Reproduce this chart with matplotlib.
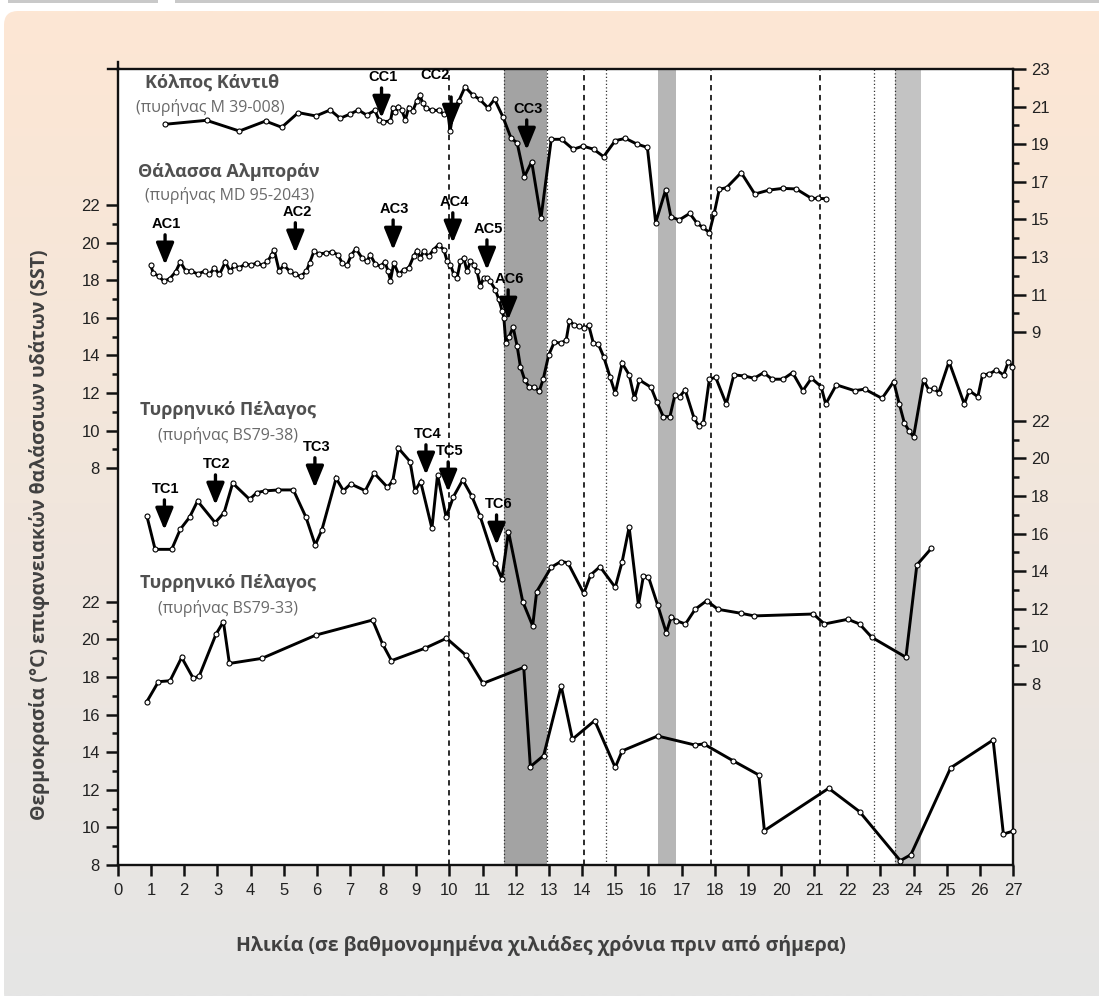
import matplotlib
matplotlib.use("Agg")
import matplotlib.pyplot as plt
import numpy as np
from matplotlib.patches import FancyBboxPatch, Rectangle

# ---- data ----
cadiz_age = [
    1.42, 2.67, 3.66, 4.45, 4.94, 5.44, 5.97, 6.40, 6.70, 7.00,
    7.25, 7.50, 7.75, 7.87, 8.00, 8.22, 8.29, 8.37, 8.46, 8.56,
    8.67, 8.77, 8.89, 9.01, 9.11, 9.19, 9.29, 9.47, 9.68, 9.82,
    9.95, 10.02, 10.12, 10.28, 10.47, 10.70, 10.91, 11.16, 11.36, 11.61,
    11.86, 12.04, 12.26, 12.48, 12.76, 13.07, 13.38, 13.73, 14.03, 14.35,
    14.65, 15.00, 15.31, 15.65, 15.97, 16.22, 16.52, 16.68, 16.93, 17.25,
    17.47, 17.64, 17.84, 17.99, 18.14, 18.36, 18.80, 19.21, 19.64, 20.05,
    20.46, 20.92, 21.13, 21.36]
cadiz_sst = [
    20.06, 20.27, 19.70, 20.23, 19.90, 20.68, 20.50, 20.82, 20.38, 20.60,
    20.82, 20.55, 20.80, 20.30, 20.20, 20.23, 20.90, 20.70, 21.00, 20.80,
    20.30, 20.95, 20.75, 21.30, 21.60, 21.20, 20.90, 20.80, 20.80, 20.60,
    20.70, 19.70, 20.80, 21.30, 22.05, 21.62, 21.39, 20.94, 21.39, 20.46,
    19.31, 19.08, 17.27, 18.07, 15.06, 19.26, 19.26, 18.73, 18.90, 18.73,
    18.34, 19.19, 19.31, 19.01, 18.83, 14.83, 16.56, 15.14, 14.97, 15.32,
    14.79, 14.58, 14.30, 15.36, 16.60, 16.69, 17.49, 16.35, 16.56, 16.65,
    16.62, 16.12, 16.12, 16.10]

alboran_age = [
    0.99, 1.06, 1.24, 1.38, 1.56, 1.74, 1.88, 2.04, 2.21, 2.41,
    2.61, 2.76, 2.91, 3.06, 3.24, 3.38, 3.51, 3.66, 3.84, 4.01,
    4.18, 4.36, 4.51, 4.64, 4.71, 4.86, 5.01, 5.18, 5.34, 5.51,
    5.68, 5.78, 5.91, 6.06, 6.26, 6.46, 6.64, 6.76, 6.91, 7.04,
    7.18, 7.36, 7.51, 7.61, 7.76, 7.92, 8.05, 8.15, 8.22, 8.32,
    8.47, 8.62, 8.77, 8.92, 9.02, 9.12, 9.22, 9.37, 9.52, 9.67,
    9.83, 9.93, 10.03, 10.13, 10.23, 10.33, 10.43, 10.53, 10.63, 10.73,
    10.83, 10.93, 11.03, 11.13, 11.23, 11.38, 11.49, 11.59, 11.64, 11.70,
    11.80, 11.92, 12.04, 12.14, 12.27, 12.41, 12.56, 12.71, 12.83, 12.99,
    13.16, 13.35, 13.52, 13.62, 13.76, 13.92, 14.07, 14.20, 14.34, 14.49,
    14.65, 14.84, 15.00, 15.21, 15.42, 15.58, 15.73, 16.08, 16.25, 16.45,
    16.65, 16.80, 16.94, 17.11, 17.38, 17.52, 17.66, 17.84, 18.03, 18.35,
    18.58, 18.90, 19.19, 19.48, 19.73, 20.06, 20.35, 20.66, 20.92, 21.21,
    21.35, 21.67, 22.22, 22.53, 23.05, 23.40, 23.57, 23.72, 23.86, 24.00,
    24.30, 24.46, 24.61, 24.76, 25.07, 25.53, 25.68, 25.94, 26.08, 26.29,
    26.49, 26.72, 26.86, 26.98]
alboran_sst = [
    18.79, 18.38, 18.20, 17.94, 18.08, 18.44, 18.97, 18.50, 18.47, 18.33,
    18.47, 18.30, 18.65, 18.30, 18.97, 18.47, 18.79, 18.65, 18.86, 18.79,
    18.91, 18.79, 19.00, 19.35, 19.62, 18.50, 18.79, 18.47, 18.30, 18.20,
    18.47, 18.91, 19.53, 19.39, 19.44, 19.50, 19.35, 18.91, 18.79, 19.35,
    19.67, 19.18, 19.00, 19.35, 18.86, 18.74, 18.97, 18.47, 17.98, 18.91,
    18.30, 18.56, 18.65, 19.27, 19.57, 19.18, 19.53, 19.27, 19.62, 19.88,
    19.62, 19.00, 18.83, 18.30, 18.12, 19.00, 19.18, 18.47, 19.00, 18.83,
    18.47, 17.68, 18.12, 18.12, 17.94, 17.50, 16.97, 16.36, 16.00, 14.64,
    15.00, 15.50, 14.50, 13.40, 12.69, 12.30, 12.30, 12.10, 12.75, 14.00,
    14.70, 14.65, 14.80, 15.85, 15.60, 15.55, 15.45, 15.60, 14.65, 14.60,
    13.93, 12.87, 11.98, 13.58, 12.96, 11.71, 12.69, 12.30, 11.54, 10.74,
    10.74, 11.89, 11.80, 12.16, 10.65, 10.24, 10.42, 12.73, 12.83, 11.41,
    12.96, 12.90, 12.78, 13.08, 12.73, 12.73, 13.08, 12.12, 12.78, 12.34,
    11.41, 12.43, 12.12, 12.20, 11.71, 12.60, 11.41, 10.42, 9.99, 9.67,
    12.69, 12.16, 12.24, 12.02, 13.66, 11.41, 12.12, 11.80, 12.96, 13.01,
    13.22, 12.96, 13.66, 13.40]

bs38_age = [
    0.87, 1.12, 1.62, 1.88, 2.16, 2.40, 2.93, 3.20, 3.46, 3.97,
    4.19, 4.44, 4.84, 5.29, 5.67, 5.95, 6.15, 6.58, 6.80, 7.02,
    7.46, 7.73, 8.13, 8.29, 8.46, 8.81, 8.96, 9.13, 9.47, 9.64,
    9.90, 10.12, 10.40, 10.67, 10.92, 11.38, 11.58, 11.78, 12.21, 12.51,
    12.63, 13.07, 13.36, 13.57, 14.05, 14.26, 14.54, 15.00, 15.21, 15.42,
    15.70, 15.85, 16.00, 16.28, 16.54, 16.69, 16.83, 17.12, 17.41, 17.76,
    18.10, 18.79, 19.19, 20.98, 21.31, 22.02, 22.37, 22.74, 23.77, 24.10,
    24.54]
bs38_sst = [
    16.94, 15.16, 15.16, 16.23, 16.87, 17.73, 16.58, 17.11, 18.68, 17.82,
    18.18, 18.27, 18.32, 18.32, 16.87, 15.39, 16.19, 18.94, 18.28, 18.64,
    18.28, 19.21, 18.46, 18.81, 20.54, 19.83, 18.28, 18.76, 16.28, 19.12,
    16.87, 17.96, 18.85, 18.00, 16.94, 14.45, 13.60, 16.10, 12.38, 11.09,
    12.91, 14.21, 14.51, 14.45, 12.82, 13.80, 14.24, 13.14, 14.51, 16.34,
    12.20, 13.74, 13.71, 12.20, 10.73, 11.58, 11.37, 11.19, 11.97, 12.43,
    11.97, 11.76, 11.62, 11.72, 11.19, 11.44, 11.19, 10.48, 9.42, 14.33,
    15.22]

bs33_age = [
    0.87, 1.22, 1.57, 1.92, 2.27, 2.45, 2.96, 3.18, 3.36, 4.34,
    5.97, 7.68, 7.98, 8.25, 9.26, 9.91, 10.49, 11.01, 12.24, 12.44,
    12.84, 13.37, 13.71, 14.38, 15.00, 15.21, 16.28, 17.41, 17.67, 18.55,
    19.33, 19.50, 21.44, 22.37, 23.60, 23.92, 25.12, 26.40, 26.71, 27.00]
bs33_sst = [
    16.69, 17.75, 17.80, 19.04, 17.93, 18.05, 20.29, 20.94, 18.72, 18.99,
    20.23, 21.03, 19.76, 18.87, 19.53, 20.06, 19.17, 17.66, 18.51, 13.23,
    13.82, 17.52, 14.69, 15.68, 13.19, 14.07, 14.86, 14.38, 14.44, 13.55,
    12.79, 9.83, 12.08, 10.84, 8.23, 8.55, 13.17, 14.65, 9.65, 9.80]

# shaded intervals and dashed markers (ka)
bands = [(11.64, 12.94), (16.28, 16.82), (23.45, 24.22)]
dashed_ages = [10.0, 14.05, 17.89, 21.18]
dotted_ages = [14.72, 22.8, 11.64, 12.94, 23.45]

# event arrows: (label, age, sst at tip)
cadiz_events = [("CC1", 7.95, 20.39), ("CC2", 10.05, 19.91), ("CC3", 12.33, 18.69)]
alboran_events = [("AC1", 1.42, 18.81), ("AC2", 5.35, 19.45), ("AC3", 8.30, 19.60),
                  ("AC4", 10.10, 19.98), ("AC5", 11.13, 18.54), ("AC6", 11.77, 15.88)]
tyrr_events = [("TC1", 1.40, 16.19), ("TC2", 2.94, 17.52), ("TC3", 5.94, 18.43),
               ("TC4", 9.29, 19.12), ("TC5", 9.96, 18.21), ("TC6", 11.42, 15.39)]

plt.rcParams["font.family"] = ["Liberation Sans", "DejaVu Sans"]
GREEK = ["Open Sans", "DejaVu Sans"]

W, H = 1099, 996
fig = plt.figure(figsize=(W / 100, H / 100), dpi=100, facecolor="white")

# background panel with a peach -> grey gradient
bg = fig.add_axes([0, 0, 1, 1], zorder=-10)
bg.set_xlim(0, W)
bg.set_ylim(H, 0)
bg.axis("off")
top_c = np.array([253, 231, 212]) / 255
bot_c = np.array([229, 229, 229]) / 255
t = np.linspace(0, 1, 256)[:, None]
grad = (top_c * (1 - t) + bot_c * t)[:, None, :]
im = bg.imshow(grad, extent=(4, W, H, 11), aspect="auto", interpolation="bilinear")
panel = FancyBboxPatch((4, 11), W + 20, H, boxstyle="round,pad=0,rounding_size=14",
                       transform=bg.transData, facecolor="none", edgecolor="none")
bg.add_patch(panel)
im.set_clip_path(panel)
bg.add_patch(Rectangle((8, 0), 150, 3, color="#c9c9c9", lw=0))
bg.add_patch(Rectangle((175, 0), W - 175, 3, color="#c9c9c9", lw=0))
# little overshoot of the frame at the top-left corner
bg.plot([118, 118], [62, 70], color="#111111", lw=1.7)
bg.plot([108, 119], [69, 69], color="#111111", lw=1.7)

rect = [118 / W, 1 - 865 / H, (1013 - 118) / W, (865 - 69) / H]
ax_alb = fig.add_axes(rect, facecolor="white")
ax_b33 = fig.add_axes(rect, sharex=ax_alb)
ax_cad = fig.add_axes(rect, sharex=ax_alb)
ax_b38 = fig.add_axes(rect, sharex=ax_alb)

ax_alb.set_xlim(0, 27)
ax_alb.set_ylim(-13.11, 29.23)
ax_b33.set_ylim(8, 50.34)
ax_cad.set_ylim(-19.34, 23)
ax_b38.set_ylim(-1.63, 40.71)

for a in (ax_b33, ax_cad, ax_b38):
    a.patch.set_visible(False)
    for s in a.spines.values():
        s.set_visible(False)
    a.tick_params(axis="x", bottom=False, labelbottom=False)

for s in ax_alb.spines.values():
    s.set_linewidth(1.7)
    s.set_color("#111111")

ax_alb.set_xticks(range(0, 28))
ax_alb.tick_params(axis="x", direction="out", length=8, width=1.8, labelsize=12,
                   pad=5, colors="#111111", labelcolor="#222222")

tick_kw = dict(direction="out", width=1.8, colors="#111111", labelcolor="#222222")
for a, major, minor, side in [
        (ax_alb, range(8, 23, 2), range(9, 22, 2), "left"),
        (ax_b33, range(8, 23, 2), range(9, 22, 2), "left"),
        (ax_cad, range(9, 24, 2), range(10, 23, 2), "right"),
        (ax_b38, range(8, 23, 2), range(9, 22, 2), "right")]:
    a.yaxis.set_ticks_position(side)
    a.yaxis.set_label_position(side)
    a.set_yticks(list(major))
    a.set_yticks(list(minor), minor=True)
    a.tick_params(axis="y", which="major", length=9, labelsize=12, pad=4, **tick_kw)
    a.tick_params(axis="y", which="minor", length=4.5, **tick_kw)

# shaded intervals and dashed lines
band_colors = ["#a3a3a3", "#b6b6b6", "#c3c3c3"]
for (x0, x1), c in zip(bands, band_colors):
    ax_alb.axvspan(x0, x1, color=c, lw=0, zorder=0.5)
for x in dashed_ages:
    ax_alb.axvline(x, color="#1a1a1a", lw=1.3, ls=(0, (3, 2.5)), zorder=0.8)
for x in dotted_ages:
    ax_alb.axvline(x, color="#333333", lw=0.9, ls=(0, (1, 1.8)), zorder=0.8)

line_kw = dict(color="black", lw=2.1, marker="o", ms=3.6, mfc="white", mec="black",
               mew=0.8, solid_joinstyle="miter", clip_on=False)
ax_cad.plot(cadiz_age, cadiz_sst, **line_kw)
ax_alb.plot(alboran_age, alboran_sst, zorder=3, **line_kw)
ax_b38.plot(bs38_age, bs38_sst, **line_kw)
ax_b33.plot(bs33_age, bs33_sst, **line_kw)


def event_arrows(ax, events, length=1.6):
    for label, x, tip in events:
        ax.annotate("", xy=(x, tip), xytext=(x, tip + length), annotation_clip=False,
                    arrowprops=dict(arrowstyle="-|>,head_length=1.1,head_width=0.45",
                                    lw=2.4, color="black", shrinkA=0, shrinkB=0,
                                    mutation_scale=12))
        dx = -0.5 if label == "CC2" else 0.05
        extra = 0.6 if label == "CC2" else 0.0
        ax.text(x + dx, tip + length + 0.2 + extra, label, ha="center", va="bottom",
                fontsize=10.5, fontweight="bold", color="black")


event_arrows(ax_cad, cadiz_events)
event_arrows(ax_alb, alboran_events)
event_arrows(ax_b38, tyrr_events)

# core names
title_kw = dict(family=GREEK, fontweight="bold", fontsize=13, color="#505050", va="center")
sub_kw = dict(family=GREEK, fontsize=11.5, color="#6a6a6a", va="center")
for name, sub, xn, yn, xs, ys in [
        ("Κόλπος Κάντιθ", "(πυρήνας M 39-008)", 145, 83, 136, 108),
        ("Θάλασσα Αλμποράν", "(πυρήνας MD 95-2043)", 138, 172, 145, 195),
        ("Τυρρηνικό Πέλαγος", "(πυρήνας BS79-38)", 140, 410, 158, 435),
        ("Τυρρηνικό Πέλαγος", "(πυρήνας BS79-33)", 140, 583, 158, 608)]:
    fig.text(xn / W, 1 - yn / H, name, ha="left", **title_kw)
    fig.text(xs / W, 1 - ys / H, sub, ha="left", **sub_kw)

fig.text(541 / W, 1 - 945 / H, "Ηλικία (σε βαθμονομημένα χιλιάδες χρόνια πριν από σήμερα)",
         ha="center", va="center", family=GREEK, fontweight="bold", fontsize=14,
         color="#404040")
fig.text(40 / W, 1 - 535 / H, "Θερμοκρασία (°C) επιφανειακών θαλάσσιων υδάτων (SST)",
         ha="center", va="center", rotation=90, family=GREEK, fontweight="bold",
         fontsize=14, color="#404040")

fig.savefig("out.png", dpi=100, facecolor=fig.get_facecolor())
